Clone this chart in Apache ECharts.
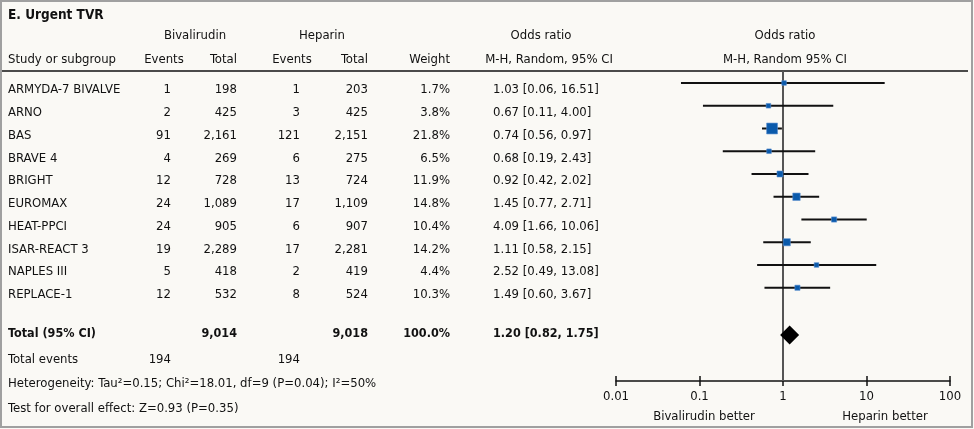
<!DOCTYPE html>
<html>
<head>
<meta charset="utf-8">
<script src="https://cdn.jsdelivr.net/npm/echarts@6/dist/echarts.min.js"></script>
<style>
html,body{margin:0;padding:0;background:#faf9f5;}
#c{width:974px;height:429px;}
</style>
</head>
<body>
<div id="c"></div>
<script>
// ---- data ----
var studies = ['ARMYDA-7 BIVALVE','ARNO','BAS','BRAVE 4','BRIGHT','EUROMAX','HEAT-PPCI','ISAR-REACT 3','NAPLES III','REPLACE-1'];
var bivEvents = [1, 2, 91, 4, 12, 24, 24, 19, 5, 12];
var bivTotal  = [198, 425, 2161, 269, 728, 1089, 905, 2289, 418, 532];
var hepEvents = [1, 3, 121, 6, 13, 17, 6, 17, 2, 8];
var hepTotal  = [203, 425, 2151, 275, 724, 1109, 907, 2281, 419, 524];
var weights   = [1.7, 3.8, 21.8, 6.5, 11.9, 14.8, 10.4, 14.2, 4.4, 10.3];
var orVal     = [1.03, 0.67, 0.74, 0.68, 0.92, 1.45, 4.09, 1.11, 2.52, 1.49];
var ciLow     = [0.06, 0.11, 0.56, 0.19, 0.42, 0.77, 1.66, 0.58, 0.49, 0.60];
var ciHigh    = [16.51, 4.00, 0.97, 2.43, 2.02, 2.71, 10.06, 2.15, 13.08, 3.67];
var totalBiv = 9014, totalHep = 9018, totalWeight = 100.0;
var totalEventsBiv = 194, totalEventsHep = 194;
var totalOR = 1.20, totalLow = 0.82, totalHigh = 1.75;
var tickLabels = ['0.01', '0.1', '1', '10', '100'];
var heterogeneityText = 'Heterogeneity: Tau\u00b2=0.15; Chi\u00b2=18.01, df=9 (P=0.04); I\u00b2=50%';
var overallText = 'Test for overall effect: Z=0.93 (P=0.35)';

// ---- layout / style ----
var FONT = "'Liberation Sans Narrow','DejaVu Sans Condensed','Arial Narrow',sans-serif";
var F = '13px ' + FONT, FB = 'bold 12.5px ' + FONT;
var TXT = '#111';
var ROW_STEP = 22.75;
var Y_MIN = -12 / ROW_STEP, Y_MAX = Y_MIN + 310 / ROW_STEP;
var TEXT_OFF = 7 / ROW_STEP;
var TOTAL_ROW = 11.08;
var cols = {
  name: [8, 'left'], bE: [171, 'right'], bT: [237, 'right'], hE: [300, 'right'],
  hT: [368, 'right'], w: [450, 'right'], or: [493, 'left']
};
function fmt(n) { return n.toLocaleString('en-US'); }
function orText(o, l, h) { return o.toFixed(2) + ' [' + l.toFixed(2) + ', ' + h.toFixed(2) + ']'; }

var tableRows = studies.map(function (s, i) {
  return { value: [0, i + TEXT_OFF], cells: {
    name: s, bE: String(bivEvents[i]), bT: fmt(bivTotal[i]), hE: String(hepEvents[i]),
    hT: fmt(hepTotal[i]), w: weights[i].toFixed(1) + '%', or: orText(orVal[i], ciLow[i], ciHigh[i]) }, bold: false };
});
tableRows.push({ value: [0, TOTAL_ROW - 0.04], cells: {
  name: 'Total (95% CI)', bT: fmt(totalBiv), hT: fmt(totalHep), w: totalWeight.toFixed(1) + '%',
  or: orText(totalOR, totalLow, totalHigh) }, bold: true });
tableRows.push({ value: [0, (360 - 83) / ROW_STEP], cells: {
  name: 'Total events', bE: String(totalEventsBiv), hE: String(totalEventsHep) }, bold: false });

function txt(x, y, text, align, font) {
  return { type: 'text', x: x, y: y, style: { text: text, x: 0, y: 0, textAlign: align || 'left',
    textVerticalAlign: 'middle', font: font || F, fill: TXT } };
}

var chart = echarts.init(document.getElementById('c'), null, { renderer: 'canvas' });
var option = {
  backgroundColor: '#faf9f5',
  animation: false,
  grid: [
    { left: 616, width: 334, top: 71, height: 310 },
    { left: 0, width: 974, top: 71, height: 310 }
  ],
  xAxis: [
    { type: 'log', logBase: 10, min: 0.01, max: 100, gridIndex: 0, position: 'bottom',
      axisLine: { show: true, onZero: false, lineStyle: { color: '#111', width: 1.5 } },
      axisTick: { show: true, length: 5, lineStyle: { color: '#111', width: 1.5 } },
      axisLabel: { show: true, margin: 9, color: TXT, fontSize: 13, fontFamily: FONT,
        formatter: function (v) { return tickLabels[Math.round(Math.log10(v)) + 2]; } },
      splitLine: { show: false }, minorTick: { show: false } },
    { type: 'log', logBase: 10, min: 0.01, max: 100, gridIndex: 0, position: 'bottom',
      axisLine: { show: false, onZero: false },
      axisTick: { show: true, inside: true, length: 5, lineStyle: { color: '#111', width: 1.5 } },
      axisLabel: { show: false }, splitLine: { show: false } },
    { type: 'value', min: 0, max: 974, gridIndex: 1, show: false }
  ],
  yAxis: [
    { type: 'value', min: Y_MIN, max: Y_MAX, inverse: true, gridIndex: 0, show: false },
    { type: 'value', min: Y_MIN, max: Y_MAX, inverse: true, gridIndex: 1, show: false }
  ],
  graphic: [
    { type: 'rect', shape: { x: 1, y: 1, width: 971, height: 426 }, style: { fill: 'none', stroke: '#a0a0a0', lineWidth: 2 }, z: 100 },
    { type: 'line', shape: { x1: 2, y1: 71, x2: 968, y2: 71 }, style: { stroke: '#111', lineWidth: 1.5 } },
    txt(8, 15, 'E. Urgent TVR', 'left', 'bold 13.5px ' + FONT),
    txt(195, 36, 'Bivalirudin', 'center'),
    txt(322, 36, 'Heparin', 'center'),
    txt(541, 36, 'Odds ratio', 'center'),
    txt(785, 36, 'Odds ratio', 'center'),
    txt(8, 60, 'Study or subgroup', 'left'),
    txt(164, 60, 'Events', 'center'),
    txt(237, 60, 'Total', 'right'),
    txt(292, 60, 'Events', 'center'),
    txt(368, 60, 'Total', 'right'),
    txt(450, 60, 'Weight', 'right'),
    txt(549, 60, 'M-H, Random, 95% CI', 'center'),
    txt(785, 60, 'M-H, Random 95% CI', 'center'),
    txt(8, 384, heterogeneityText, 'left'),
    txt(8, 409, overallText, 'left'),
    txt(704, 417, 'Bivalirudin better', 'center'),
    txt(885, 417, 'Heparin better', 'center')
  ],
  series: [
    // reference line at OR = 1
    { type: 'custom', xAxisIndex: 0, yAxisIndex: 0, z: 1, data: [[1]],
      renderItem: function (params, api) {
        var a = api.coord([api.value(0), Y_MIN]), b = api.coord([api.value(0), Y_MAX]);
        return { type: 'line', shape: { x1: a[0], y1: a[1], x2: b[0], y2: b[1] },
          style: { stroke: '#555', lineWidth: 2 } };
      } },
    // confidence intervals
    { type: 'custom', xAxisIndex: 0, yAxisIndex: 0, z: 2,
      data: studies.map(function (s, i) { return [ciLow[i], ciHigh[i], i]; }),
      renderItem: function (params, api) {
        var a = api.coord([api.value(0), api.value(2)]), b = api.coord([api.value(1), api.value(2)]);
        return { type: 'line', shape: { x1: a[0], y1: a[1], x2: b[0], y2: b[1] },
          style: { stroke: '#111', lineWidth: 2 } };
      } },
    // point estimates
    { type: 'scatter', xAxisIndex: 0, yAxisIndex: 0, z: 3, symbol: 'rect',
      data: studies.map(function (s, i) { return [orVal[i], i, weights[i]]; }),
      symbolSize: function (v) { return Math.max(4.6, v[2] * 0.5); },
      itemStyle: { color: '#0a5aab', borderColor: '#5b8fd0', borderWidth: 0.6, opacity: 1 } },
    // pooled estimate
    { type: 'scatter', xAxisIndex: 0, yAxisIndex: 0, z: 3, symbol: 'diamond', symbolSize: [19, 19],
      data: [[totalOR, TOTAL_ROW]], itemStyle: { color: '#000', opacity: 1 } },
    // table text
    { type: 'custom', xAxisIndex: 2, yAxisIndex: 1, z: 5, data: tableRows,
      renderItem: function (params, api) {
        var row = tableRows[params.dataIndex];
        var y = api.coord([0, api.value(1)])[1];
        var children = [];
        Object.keys(row.cells).forEach(function (k) {
          var c = cols[k];
          var x = api.coord([c[0], 0])[0];
          children.push({ type: 'text', x: x, y: y, style: { text: row.cells[k], textAlign: c[1],
            textVerticalAlign: 'middle', font: row.bold ? FB : F, fill: TXT } });
        });
        return { type: 'group', children: children };
      } }
  ]
};
chart.setOption(option);
</script>
</body>
</html>
